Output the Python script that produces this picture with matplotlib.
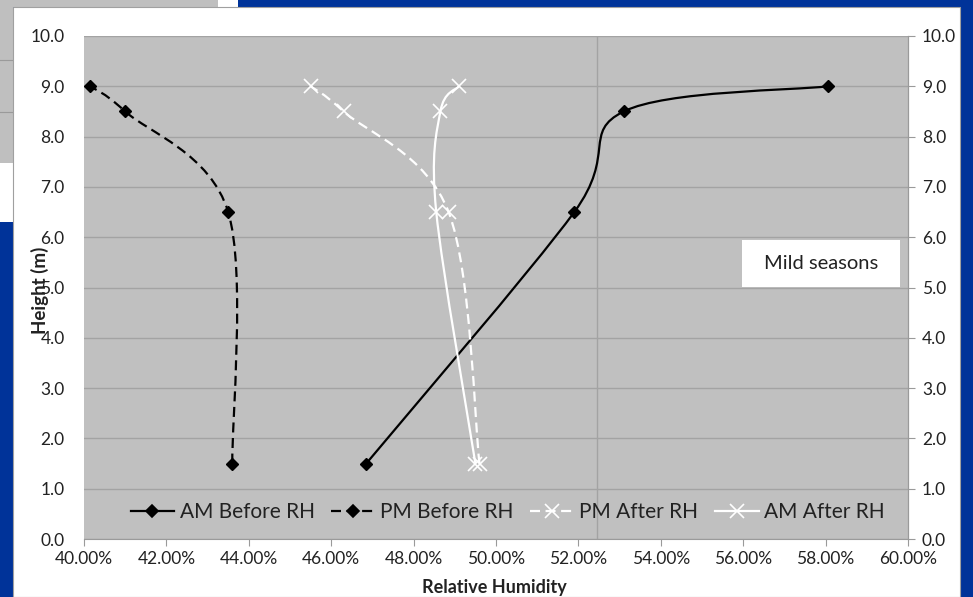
import numpy as np
import matplotlib
matplotlib.use("Agg")
import matplotlib.pyplot as plt
from matplotlib.path import Path
from matplotlib.patches import PathPatch, Rectangle
from matplotlib.lines import Line2D
from matplotlib.ticker import FuncFormatter

plt.rcParams["font.family"] = ["Lato", "DejaVu Sans"]

heights = [1.5, 6.5, 8.5, 9.0]
am_before = [46.85, 51.9, 53.1, 58.05]
pm_before = [43.6, 43.5, 41.0, 40.15]
pm_after = [49.6, 48.85, 46.3, 45.5]
am_after = [49.5, 48.55, 48.65, 49.1]

x_ticks = np.arange(40, 60.1, 2)
y_ticks = np.arange(0, 10.1, 1)

BLUE = "#003399"
PLOT_BG = "#c0c0c0"
GRID = "#a3a3a3"


def smooth_path(xs, ys):
    # Excel style smoothed line: Catmull-Rom segments as cubic Beziers
    pts = np.column_stack([xs, ys])
    n = len(pts)
    verts = [pts[0]]
    codes = [Path.MOVETO]
    for i in range(n - 1):
        p0 = pts[max(i - 1, 0)]
        p1 = pts[i]
        p2 = pts[i + 1]
        p3 = pts[min(i + 2, n - 1)]
        verts += [p1 + (p2 - p0) / 6, p2 - (p3 - p1) / 6, p2]
        codes += [Path.CURVE4] * 3
    return Path(verts, codes)


fig = plt.figure(figsize=(9.73, 5.97), dpi=100)
fig.patch.set_facecolor(BLUE)

W, H = 973.0, 597.0
# pieces of the slide behind the chart
fig.add_artist(Rectangle((0, 1 - 7 / H), 218 / W, 7 / H, transform=fig.transFigure,
                         facecolor="#bfbfbf", edgecolor="none", zorder=-3))
fig.add_artist(Rectangle((218 / W, 1 - 7 / H), 20 / W, 7 / H, transform=fig.transFigure,
                         facecolor="white", edgecolor="none", zorder=-3))
fig.add_artist(Rectangle((0, 1 - 163 / H), 13 / W, 163 / H, transform=fig.transFigure,
                         facecolor="#bfbfbf", edgecolor="none", zorder=-3))
fig.add_artist(Rectangle((0, 1 - 222 / H), 13 / W, 59 / H, transform=fig.transFigure,
                         facecolor="white", edgecolor="none", zorder=-3))
for yy in [60, 112]:
    fig.add_artist(Line2D([0, 13 / W], [1 - yy / H] * 2, transform=fig.transFigure,
                          color="#9a9a9a", lw=0.8, zorder=-2.5))
# chart area
fig.add_artist(Rectangle((13 / W, 0), 947 / W, 590 / H, transform=fig.transFigure,
                         facecolor="white", edgecolor="#a0a0a0", lw=0.8, zorder=-2))

ax = fig.add_axes([84 / W, 58 / H, 824 / W, 503 / H])
ax.set_facecolor(PLOT_BG)
ax.set_xlim(40, 60)
ax.set_ylim(0, 10)
ax.set_xticks(x_ticks)
ax.set_yticks(y_ticks)
ax.xaxis.set_major_formatter(FuncFormatter(lambda v, p: f"{v:.2f}%"))
ax.yaxis.set_major_formatter(FuncFormatter(lambda v, p: f"{v:.1f}"))
ax.grid(axis="y", color=GRID, lw=1.0)
ax.axvline(52.45, color=GRID, lw=1.0, zorder=0.5)
ax.set_axisbelow(True)
for s in ["left", "top"]:
    ax.spines[s].set_visible(False)
for s in ["right", "bottom"]:
    ax.spines[s].set_color("#9a9a9a")
ax.tick_params(axis="x", length=5, color="#9a9a9a", labelsize=12.5, pad=4, labelcolor="#222222")
ax.tick_params(axis="y", length=0, labelsize=12.5, pad=14, labelcolor="#222222")

ax2 = ax.twinx()
ax2.set_ylim(0, 10)
ax2.set_yticks(y_ticks)
ax2.yaxis.set_major_formatter(FuncFormatter(lambda v, p: f"{v:.1f}"))
for s in ["left", "top", "bottom"]:
    ax2.spines[s].set_visible(False)
ax2.spines["right"].set_color("#9a9a9a")
ax2.tick_params(axis="y", length=5, color="#9a9a9a", labelsize=12.5, pad=5, labelcolor="#222222")

series = [
    ("AM Before RH", am_before, "black", "-", "D"),
    ("PM Before RH", pm_before, "black", (0, (4.5, 2.5)), "D"),
    ("PM After RH", pm_after, "white", (0, (4.5, 2.5)), "x"),
    ("AM After RH", am_after, "white", "-", "x"),
]
handles = []
for label, xs, col, ls, mk in series:
    ax.add_patch(PathPatch(smooth_path(xs, heights), facecolor="none", edgecolor=col,
                           lw=1.6, linestyle=ls, zorder=3))
    if mk == "D":
        ax.plot(xs, heights, linestyle="none", marker="D", markersize=6.5, color=col, zorder=4)
    else:
        ax.plot(xs, heights, linestyle="none", marker="x", markersize=10, mew=1.2, color=col, zorder=4)
    handles.append(Line2D([], [], color=col, lw=1.6, linestyle=ls, marker=mk,
                          markersize=6.5 if mk == "D" else 10, mew=1.2, label=label))

ax.legend(handles=handles, loc="center", bbox_to_anchor=(0.514, 27 / 503), ncol=4,
          frameon=False, fontsize=15, handlelength=2.1, columnspacing=0.8,
          handletextpad=0.25, labelcolor="#222222")

# text box
ax.add_patch(Rectangle((55.97, 5.01), 3.83, 0.93, facecolor="white", edgecolor="none", zorder=5))
ax.text(57.9, 5.475, "Mild seasons", ha="center", va="center", fontsize=14.5,
        color="#222222", zorder=6)

fig.text(494 / W, 1 - 588 / H, "Relative Humidity", ha="center", va="center",
         fontsize=13, fontweight="bold", color="#222222")
fig.text(40 / W, 1 - 290 / H, "Height (m)", ha="center", va="center", rotation=90,
         fontsize=13.5, fontweight="bold", color="#222222")

fig.savefig("out.png", dpi=100, facecolor=fig.get_facecolor())
